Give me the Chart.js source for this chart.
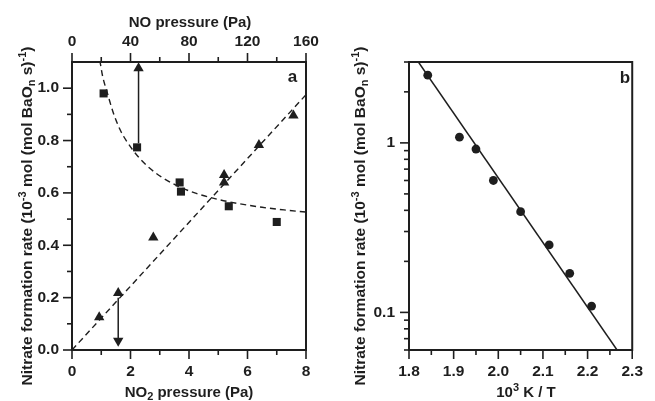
<!DOCTYPE html>
<html>
<head>
<meta charset="utf-8">
<title>Nitrate formation rate</title>
<script src="https://cdn.jsdelivr.net/npm/chart.js"></script>
<style>
  body { margin: 0; background: #fff; }
  #wrap { position: relative; width: 655px; height: 401px; }
  #wrap canvas { position: absolute; top: 0; }
</style>
</head>
<body>
<div id="wrap">
  <canvas id="pressure-chart" width="330" height="401" style="left:0"></canvas>
  <canvas id="arrhenius-chart" width="325" height="401" style="left:330px"></canvas>
</div>
<script>
// panel a: rate vs NO pressure (squares, top axis) and NO2 pressure (triangles, bottom axis)
const noPressure = [21.6, 44.5, 73.6, 74.5, 107.2, 140.0];
const noRate = [0.98, 0.774, 0.640, 0.605, 0.549, 0.489];
const no2Pressure = [0.93, 1.58, 2.78, 5.20, 5.20, 6.39, 7.57];
const no2Rate = [0.125, 0.218, 0.430, 0.668, 0.640, 0.783, 0.896];

// dashed fit through the NO points
const noFitX = [19, 21, 24, 28, 33, 38, 45, 53, 62, 72, 85, 100, 115, 130, 145, 160];
const noFitY = [1.107, 1.044, 0.985, 0.910, 0.840, 0.792, 0.740, 0.695, 0.658, 0.627, 0.598, 0.575, 0.558, 0.545, 0.535, 0.527];
// dashed linear fit through the NO2 points
const no2FitX = [0, 8];
const no2FitY = [0, 0.975];

// arrows pointing each series to its own pressure axis
const upArrowX = [45.5, 45.5];
const upArrowY = [0.79, 1.076];
const downArrowX = [1.58, 1.58];
const downArrowY = [0.20, 0.035];

// panel b: Arrhenius plot
const invTemp = [1.842, 1.913, 1.950, 1.989, 2.050, 2.114, 2.160, 2.209];
const rateT = [2.51, 1.08, 0.92, 0.60, 0.393, 0.25, 0.170, 0.109];
const arrFitX = [1.821, 2.266];
const arrFitY = [3.0, 0.06];

// tick values
const no2Ticks = [0, 2, 4, 6, 8];
const no2Minor = [1, 3, 5, 7];
const noTicks = [0, 40, 80, 120, 160];
const noMinor = [20, 60, 100, 140];
const rateTicks = [0, 0.2, 0.4, 0.6, 0.8, 1.0];
const rateMinor = [0.1, 0.3, 0.5, 0.7, 0.9];
const invTempTicks = [1.8, 1.9, 2.0, 2.1, 2.2, 2.3];
const invTempMinor = [1.85, 1.95, 2.05, 2.15, 2.25];
const logTicks = [0.1, 1];
const logMinor = [0.06, 0.07, 0.08, 0.09, 0.2, 0.3, 0.4, 0.5, 0.6, 0.7, 0.8, 0.9, 2, 3];

const INK = '#1e1e1e';
const FONT = '"Liberation Sans", Arial, Helvetica, sans-serif';
const yTitle = [['Nitrate formation rate (10', 0], ['-3', 1], [' mol (mol BaO', 0], ['n', -1], [' s)', 0], ['-1', 1], [')', 0]];

Chart.defaults.font.family = FONT;
Chart.defaults.font.weight = 'bold';
Chart.defaults.font.size = 15.5;
Chart.defaults.color = INK;

const pts = (xs, ys) => xs.map((x, i) => ({ x, y: ys[i] }));
const setTicks = list => scale => { scale.ticks = list.map(value => ({ value })); };

// text with super/subscripts, optionally rotated to run bottom-to-top
function drawRich(ctx, parts, x, y, size, rotate) {
  const small = Math.round(size * 0.7);
  ctx.save();
  ctx.translate(x, y);
  if (rotate) ctx.rotate(-Math.PI / 2);
  ctx.fillStyle = INK;
  ctx.textAlign = 'left';
  ctx.textBaseline = 'alphabetic';
  const widths = parts.map(([t, s]) => {
    ctx.font = `bold ${s ? small : size}px ${FONT}`;
    return ctx.measureText(t).width;
  });
  let cx = -widths.reduce((a, b) => a + b, 0) / 2;
  parts.forEach(([t, s], i) => {
    ctx.font = `bold ${s ? small : size}px ${FONT}`;
    ctx.fillText(t, cx, s > 0 ? -size * 0.4 : s < 0 ? size * 0.18 : 0);
    cx += widths[i];
  });
  ctx.restore();
}

// box around the plot area plus outward major/minor tick marks
function frameAndTicks(minor, labels) {
  return {
    id: 'frameAndTicks',
    afterDraw(chart) {
      const { ctx, chartArea: a } = chart;
      ctx.save();
      ctx.strokeStyle = INK;
      ctx.lineWidth = 2;
      ctx.strokeRect(a.left, a.top, a.right - a.left, a.bottom - a.top);
      ctx.lineWidth = 1.6;
      Object.values(chart.scales).forEach(scale => {
        const marks = scale.ticks.map(t => [t.value, 9])
          .concat((minor[scale.id] || []).map(v => [v, 5]));
        const pos = scale.options.position;
        marks.forEach(([v, len]) => {
          const p = scale.getPixelForValue(v);
          ctx.beginPath();
          if (pos === 'left') { ctx.moveTo(a.left, p); ctx.lineTo(a.left - len, p); }
          if (pos === 'bottom') { ctx.moveTo(p, a.bottom); ctx.lineTo(p, a.bottom + len); }
          if (pos === 'top') { ctx.moveTo(p, a.top); ctx.lineTo(p, a.top - len); }
          ctx.stroke();
        });
      });
      ctx.restore();
      labels.forEach(l => drawRich(ctx, l.parts, l.x, l.y, l.size, l.rotate));
    }
  };
}

const marker = (data, style, radius, extra) => Object.assign({
  data, pointStyle: style, pointRadius: radius, pointBorderWidth: 0,
  pointBackgroundColor: INK, showLine: false
}, extra);

const line = (data, dash, extra) => Object.assign({
  data, showLine: true, pointRadius: 0, borderColor: INK,
  borderWidth: dash ? 1.4 : 1.5, borderDash: dash || []
}, extra);

const arrow = (data, rotation, xAxisID) => ({
  data, xAxisID, showLine: true, borderColor: INK, borderWidth: 1.5,
  pointStyle: 'triangle', pointRadius: [0, 6], pointRotation: [0, rotation],
  pointBorderWidth: 0, pointBackgroundColor: INK
});

const hiddenGrid = { display: false, drawTicks: false };
const common = {
  responsive: false,
  animation: false,
  plugins: { legend: { display: false }, tooltip: { enabled: false } }
};

new Chart(document.getElementById('pressure-chart'), {
  type: 'scatter',
  data: {
    datasets: [
      marker(pts(noPressure, noRate), 'rect', 5.7, { xAxisID: 'x2' }),
      marker(pts(no2Pressure, no2Rate), 'triangle', 6, { xAxisID: 'x' }),
      arrow(pts(upArrowX, upArrowY), 0, 'x2'),
      arrow(pts(downArrowX, downArrowY), 180, 'x'),
      line(pts(noFitX, noFitY), [6, 4], { xAxisID: 'x2', tension: 0.4, cubicInterpolationMode: 'monotone' }),
      line(pts(no2FitX, no2FitY), [6, 4], { xAxisID: 'x' })
    ]
  },
  options: Object.assign({}, common, {
    layout: { padding: { top: 0, right: 24, bottom: 0, left: 0 } },
    scales: {
      x: {
        type: 'linear', position: 'bottom', min: 0, max: 8,
        grid: hiddenGrid, border: { display: false },
        afterBuildTicks: setTicks(no2Ticks),
        afterFit: s => { s.height = 51; },
        ticks: { padding: 12, autoSkip: false, maxRotation: 0 }
      },
      x2: {
        type: 'linear', position: 'top', min: 0, max: 160,
        grid: hiddenGrid, border: { display: false },
        afterBuildTicks: setTicks(noTicks),
        afterFit: s => { s.height = 62; },
        ticks: { padding: 11, autoSkip: false, maxRotation: 0 }
      },
      y: {
        type: 'linear', position: 'left', min: 0, max: 1.1,
        grid: hiddenGrid, border: { display: false },
        afterBuildTicks: setTicks(rateTicks),
        afterFit: s => { s.width = 72; },
        ticks: { padding: 13, autoSkip: false, callback: v => v.toFixed(1) }
      }
    }
  }),
  plugins: [frameAndTicks({ x: no2Minor, x2: noMinor, y: rateMinor }, [
    { parts: [['NO pressure (Pa)', 0]], x: 190, y: 27, size: 15 },
    { parts: [['NO', 0], ['2', -1], [' pressure (Pa)', 0]], x: 189, y: 397, size: 15 },
    { parts: yTitle, x: 32, y: 216, size: 15.5, rotate: true },
    { parts: [['a', 0]], x: 292.5, y: 82, size: 17 }
  ])]
});

new Chart(document.getElementById('arrhenius-chart'), {
  type: 'scatter',
  data: {
    datasets: [
      marker(pts(invTemp, rateT), 'circle', 4.4),
      line(pts(arrFitX, arrFitY))
    ]
  },
  options: Object.assign({}, common, {
    layout: { padding: { top: 62, right: 12, bottom: 0, left: 0 } },
    scales: {
      x: {
        type: 'linear', position: 'bottom', min: 1.8, max: 2.3,
        grid: hiddenGrid, border: { display: false },
        afterBuildTicks: setTicks(invTempTicks),
        afterFit: s => { s.height = 51; },
        ticks: { padding: 12, autoSkip: false, maxRotation: 0, callback: v => v.toFixed(1) }
      },
      y: {
        type: 'logarithmic', position: 'left', min: 0.06, max: 3,
        grid: hiddenGrid, border: { display: false },
        afterBuildTicks: setTicks(logTicks),
        afterFit: s => { s.width = 79; },
        ticks: { padding: 14, autoSkip: false, callback: v => String(v) }
      }
    }
  }),
  plugins: [frameAndTicks({ x: invTempMinor, y: logMinor }, [
    { parts: [['10', 0], ['3', 1], [' K / T', 0]], x: 196, y: 397, size: 15 },
    { parts: yTitle, x: 35, y: 216, size: 15.5, rotate: true },
    { parts: [['b', 0]], x: 295, y: 83, size: 17 }
  ])]
});
</script>
</body>
</html>
